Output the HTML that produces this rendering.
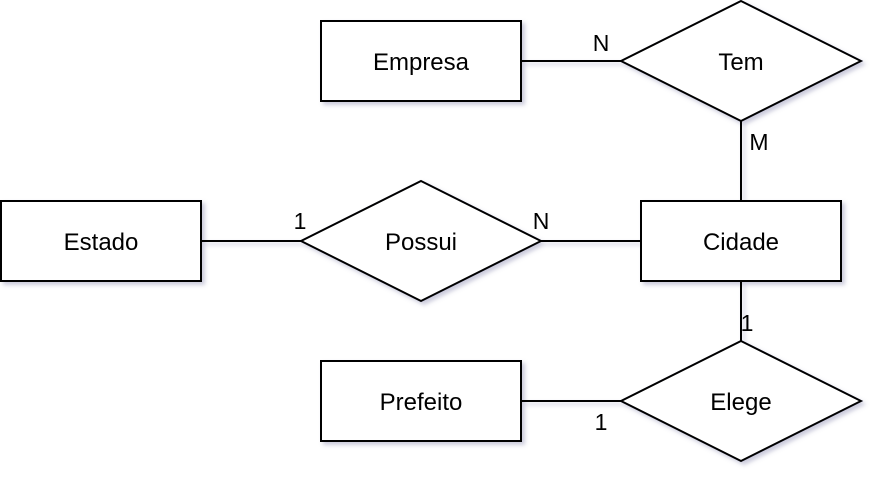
<!DOCTYPE html>
<html><head><meta charset="utf-8"><style>
html,body{margin:0;padding:0;background:#fff;}
svg{display:block;}
text{font-family:"Liberation Sans",sans-serif;font-size:23px;fill:#000;}
text.n{font-size:24px;}
</style></head><body>
<svg width="884" height="484" viewBox="0 0 884 484" xmlns="http://www.w3.org/2000/svg">
<defs>
<filter id="sh" x="-20%" y="-20%" width="140%" height="140%">
<feGaussianBlur in="SourceAlpha" stdDeviation="2"/>
<feOffset dx="3" dy="3" result="b"/>
<feFlood flood-color="#6a6a9a" flood-opacity="0.35"/>
<feComposite in2="b" operator="in"/>
<feMerge><feMergeNode/><feMergeNode in="SourceGraphic"/></feMerge>
</filter>
</defs>
<g filter="url(#sh)" stroke="#000" stroke-width="2" fill="#fff">
<line x1="521" y1="61" x2="621" y2="61"/>
<line x1="741" y1="121" x2="741" y2="201"/>
<line x1="201" y1="241" x2="301" y2="241"/>
<line x1="541" y1="241" x2="641" y2="241"/>
<line x1="741" y1="281" x2="741" y2="341"/>
<line x1="521" y1="401" x2="621" y2="401"/>
<rect x="321" y="21" width="200" height="80"/>
<rect x="1" y="201" width="200" height="80"/>
<rect x="641" y="201" width="200" height="80"/>
<rect x="321" y="361" width="200" height="80"/>
<polygon points="741,1 861,61 741,121 621,61"/>
<polygon points="421,181 541,241 421,301 301,241"/>
<polygon points="741,341 861,401 741,461 621,401"/>
</g>
<g text-anchor="middle">
<text class="n" x="421" y="70">Empresa</text>
<text class="n" x="741" y="70">Tem</text>
<text class="n" x="101" y="250">Estado</text>
<text class="n" x="421" y="250">Possui</text>
<text class="n" x="741" y="250">Cidade</text>
<text class="n" x="421" y="410">Prefeito</text>
<text class="n" x="741" y="410">Elege</text>
<text x="601" y="51">N</text>
<text x="759" y="150">M</text>
<text x="300" y="229">1</text>
<text x="541" y="229">N</text>
<text x="747" y="331">1</text>
<text x="601" y="430">1</text>
</g>
</svg>
</body></html>
